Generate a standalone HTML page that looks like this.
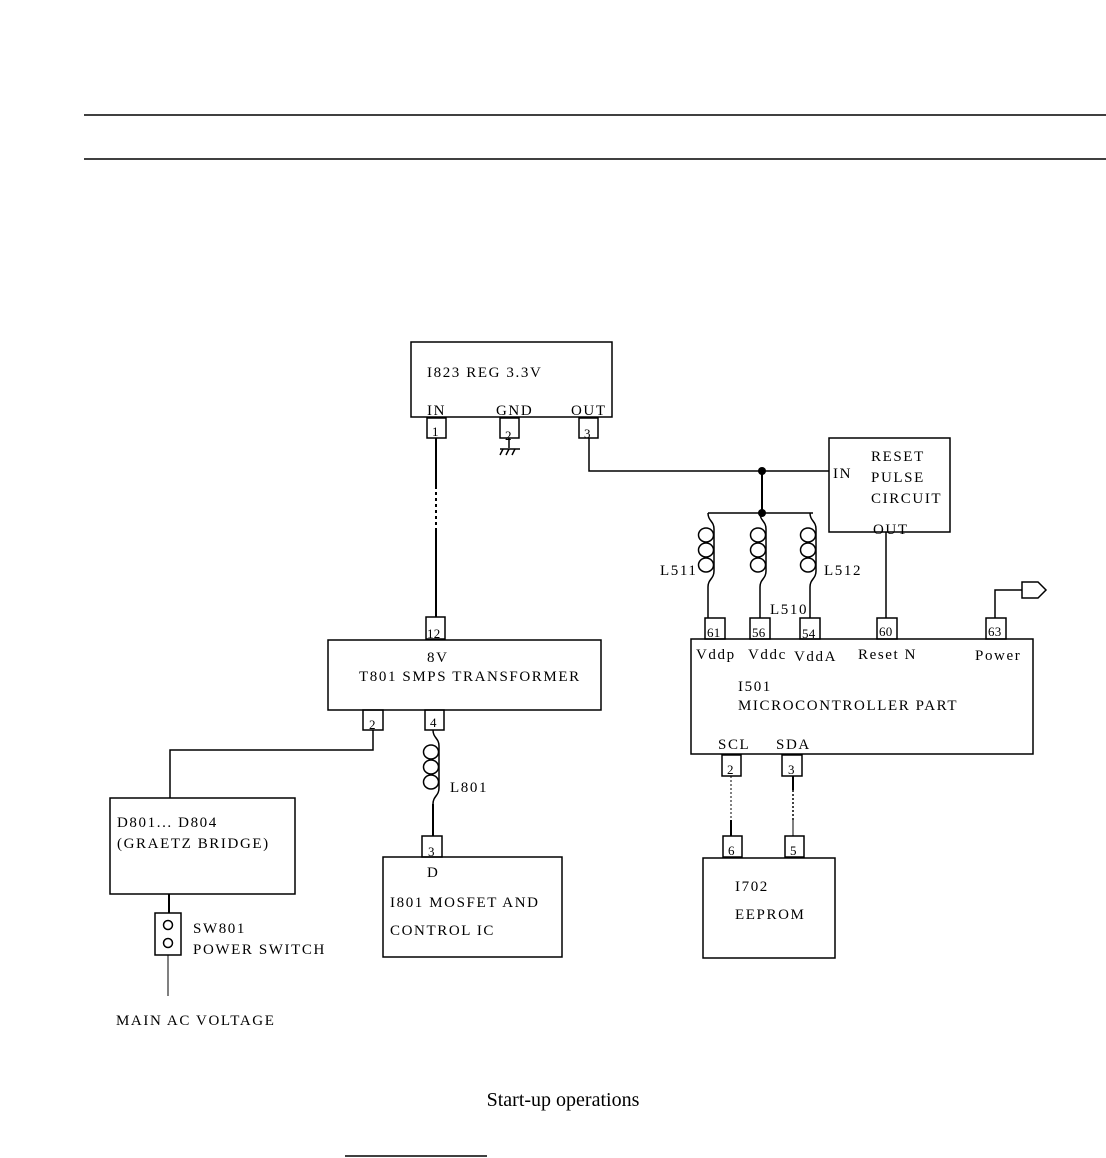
<!DOCTYPE html>
<html><head><meta charset="utf-8"><style>
html,body{margin:0;padding:0;background:#fff;}
svg{display:block;}
text{font-family:"Liberation Serif",serif;font-size:15px;letter-spacing:1.6px;fill:#000;}
.s{font-size:13px;letter-spacing:0.3px;}
</style></head><body>
<svg width="1106" height="1158" viewBox="0 0 1106 1158" xmlns="http://www.w3.org/2000/svg">
<defs>
<g id="coil" fill="none" stroke="#000" stroke-width="1.5">
<path d="M0,0 C0,8 6,8 6,16 L6,58 C6,66 0,66 0,74"/>
<ellipse cx="-2" cy="22" rx="7.5" ry="7"/>
<ellipse cx="-2" cy="37" rx="7.5" ry="7"/>
<ellipse cx="-2" cy="52" rx="7.5" ry="7"/>
</g>
</defs>
<g stroke="#000" stroke-width="1.5" fill="none">
<line x1="84" y1="115" x2="1106" y2="115"/>
<line x1="84" y1="159" x2="1106" y2="159"/>
<rect x="411" y="342" width="201" height="75"/>
<rect x="427" y="418" width="19" height="20"/>
<rect x="500" y="418" width="19" height="20"/>
<rect x="579" y="418" width="19" height="20"/>
<line x1="509" y1="438" x2="509" y2="448"/>
<line x1="500" y1="449" x2="520" y2="449"/>
<line x1="503" y1="449" x2="500" y2="455"/><line x1="509" y1="449" x2="506" y2="455"/><line x1="515" y1="449" x2="512" y2="455"/>
<line x1="436" y1="438" x2="436" y2="486" stroke-width="2"/>
<line x1="436" y1="486" x2="436" y2="528" stroke-dasharray="3,3" stroke-width="2"/>
<line x1="436" y1="528" x2="436" y2="617" stroke-width="2"/>
<rect x="426" y="617" width="19" height="22"/>
<rect x="328" y="640" width="273" height="70"/>
<rect x="363" y="710" width="20" height="20"/>
<rect x="425" y="710" width="19" height="20"/>
<polyline points="373,730 373,750 170,750 170,798"/>
<rect x="110" y="798" width="185" height="96"/>
<line x1="169" y1="894" x2="169" y2="913" stroke-width="2"/>
<rect x="155" y="913" width="26" height="42"/>
<circle cx="168" cy="925" r="4.5"/><circle cx="168" cy="943" r="4.5"/>
<line x1="168" y1="955" x2="168" y2="996" stroke-width="1"/>
<use href="#coil" x="433" y="730"/>
<line x1="433" y1="804" x2="433" y2="836" stroke-width="2"/>
<rect x="422" y="836" width="20" height="21"/>
<rect x="383" y="857" width="179" height="100"/>
<polyline points="589,438 589,471 829,471"/>
<rect x="829" y="438" width="121" height="94"/>
<line x1="762" y1="471" x2="762" y2="513" stroke-width="2"/>
<line x1="708" y1="513" x2="813" y2="513"/>
<use href="#coil" x="708" y="513"/>
<use href="#coil" x="760" y="513"/>
<use href="#coil" x="810" y="513"/>
<line x1="708" y1="587" x2="708" y2="618"/><line x1="760" y1="587" x2="760" y2="618"/><line x1="810" y1="587" x2="810" y2="618"/>
<rect x="705" y="618" width="20" height="21"/>
<rect x="750" y="618" width="20" height="21"/>
<rect x="800" y="618" width="20" height="21"/>
<rect x="877" y="618" width="20" height="21"/>
<rect x="986" y="618" width="20" height="21"/>
<line x1="886" y1="532" x2="886" y2="618"/>
<polyline points="995,618 995,590 1022,590"/>
<polygon points="1022,582 1038,582 1046,590 1038,598 1022,598"/>
<rect x="691" y="639" width="342" height="115"/>
<rect x="722" y="755" width="19" height="21"/>
<rect x="782" y="755" width="20" height="21"/>
<line x1="731" y1="776" x2="731" y2="820" stroke-width="1" stroke-dasharray="2,2"/>
<line x1="731" y1="820" x2="731" y2="836" stroke-width="2"/>
<line x1="793" y1="776" x2="793" y2="790" stroke-width="2"/>
<line x1="793" y1="790" x2="793" y2="820" stroke-dasharray="2,2"/>
<line x1="793" y1="820" x2="793" y2="836" stroke-width="1"/>
<rect x="723" y="836" width="19" height="21"/>
<rect x="785" y="836" width="19" height="21"/>
<rect x="703" y="858" width="132" height="100"/>
<line x1="345" y1="1156" x2="487" y2="1156"/>
</g>
<circle cx="762" cy="471" r="4"/><circle cx="762" cy="513" r="4"/>
<text x="427" y="377">I823 REG 3.3V</text>
<text x="427" y="415">IN</text><text x="496" y="415">GND</text><text x="571" y="415">OUT</text>
<text class="s" x="432" y="436">1</text><text class="s" x="505" y="440">2</text><text class="s" x="584" y="438">3</text>
<text class="s" x="427" y="638">12</text>
<text x="427" y="662">8V</text>
<text x="359" y="681">T801 SMPS TRANSFORMER</text>
<text class="s" x="369" y="729">2</text><text class="s" x="430" y="727">4</text>
<text x="117" y="827">D801... D804</text>
<text x="117" y="848">(GRAETZ BRIDGE)</text>
<text x="193" y="933">SW801</text><text x="193" y="954">POWER SWITCH</text>
<text x="116" y="1025">MAIN AC VOLTAGE</text>
<text x="450" y="792">L801</text>
<text class="s" x="428" y="856">3</text>
<text x="427" y="877">D</text>
<text x="390" y="907">I801 MOSFET AND</text>
<text x="390" y="935">CONTROL IC</text>
<text x="871" y="461">RESET</text><text x="871" y="482">PULSE</text><text x="871" y="503">CIRCUIT</text>
<text x="833" y="478">IN</text><text x="873" y="534">OUT</text>
<text x="660" y="575">L511</text><text x="824" y="575">L512</text><text x="770" y="614">L510</text>
<text class="s" x="707" y="637">61</text><text class="s" x="752" y="637">56</text><text class="s" x="802" y="638">54</text><text class="s" x="879" y="636">60</text><text class="s" x="988" y="636">63</text>
<text x="696" y="659">Vddp</text><text x="748" y="659">Vddc</text><text x="794" y="661">VddA</text><text x="858" y="659">Reset N</text><text x="975" y="660">Power</text>
<text x="738" y="691">I501</text>
<text x="738" y="710">MICROCONTROLLER PART</text>
<text x="718" y="749">SCL</text><text x="776" y="749">SDA</text>
<text class="s" x="727" y="774">2</text><text class="s" x="788" y="774">3</text>
<text class="s" x="728" y="855">6</text><text class="s" x="790" y="855">5</text>
<text x="735" y="891">I702</text><text x="735" y="919">EEPROM</text>
<text x="563" y="1106" text-anchor="middle" style="font-size:20px;letter-spacing:0">Start-up operations</text>
</svg>
</body></html>
